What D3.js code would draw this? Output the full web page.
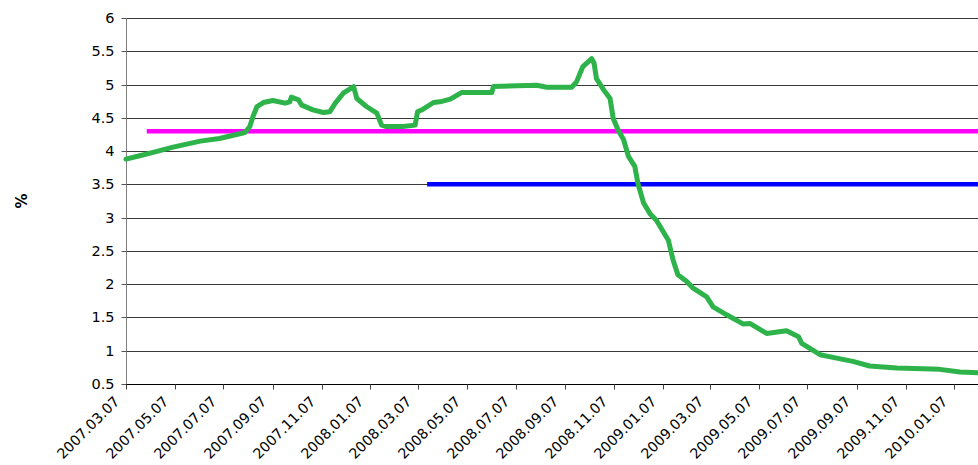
<!DOCTYPE html>
<html>
<head>
<meta charset="utf-8">
<script src="https://cdn.jsdelivr.net/npm/d3@7"></script>
<style>
  html, body { margin: 0; padding: 0; background: #fff; }
  svg { display: block; }
  text { font-family: "DejaVu Sans", Verdana, sans-serif; fill: #000; }
</style>
</head>
<body>
<svg id="chart" width="978" height="465"></svg>
<script>
// Daily rate series (dates and % values)
const rateDates = [
  "2007-03-07","2007-03-24","2007-04-10","2007-05-05","2007-06-08","2007-07-02",
  "2007-08-03","2007-08-09","2007-08-13","2007-08-18","2007-08-26","2007-09-07",
  "2007-09-22","2007-09-28","2007-09-30","2007-10-09","2007-10-13","2007-10-27",
  "2007-11-09","2007-11-17","2007-11-24","2007-12-04","2007-12-17","2007-12-21",
  "2008-01-02","2008-01-15","2008-01-21","2008-01-27","2008-02-17","2008-03-03",
  "2008-03-06","2008-03-13","2008-03-26","2008-04-03","2008-04-16","2008-04-30",
  "2008-06-07","2008-06-09","2008-08-02","2008-08-15","2008-09-15","2008-09-21",
  "2008-09-29","2008-10-10","2008-10-13","2008-10-16","2008-10-25","2008-11-02",
  "2008-11-06","2008-11-12","2008-11-19","2008-11-25","2008-12-03","2008-12-07",
  "2008-12-14","2008-12-22","2008-12-30","2009-01-14","2009-01-20","2009-01-26",
  "2009-02-06","2009-02-14","2009-03-03","2009-03-11","2009-03-28","2009-04-18",
  "2009-04-26","2009-05-17","2009-06-11","2009-06-26","2009-06-30","2009-07-23",
  "2009-08-08","2009-09-02","2009-09-23","2009-10-27","2009-12-20","2010-01-14",
  "2010-02-06"
];
const rateValues = [
  3.88, 3.93, 3.98, 4.06, 4.15, 4.19,
  4.28, 4.37, 4.52, 4.67, 4.73, 4.76,
  4.72, 4.74, 4.81, 4.77, 4.69, 4.62,
  4.58, 4.59, 4.72, 4.87, 4.97, 4.79,
  4.67, 4.57, 4.39, 4.37, 4.37, 4.39,
  4.59, 4.63, 4.73, 4.74, 4.78, 4.88,
  4.88, 4.97, 4.99, 4.96, 4.96, 5.04,
  5.27, 5.39, 5.32, 5.09, 4.92, 4.79,
  4.49, 4.32, 4.17, 3.92, 3.77, 3.51,
  3.22, 3.06, 2.96, 2.66, 2.36, 2.14,
  2.04, 1.94, 1.81, 1.66, 1.54, 1.40,
  1.41, 1.26, 1.30, 1.21, 1.11, 0.94,
  0.90, 0.84, 0.77, 0.74, 0.72, 0.68,
  0.67
];

// Flat reference levels (value and first date)
const levelValues = [4.3, 3.5];
const levelStarts = ["2007-04-02", "2008-03-18"];
const levelEnd = "2010-02-06";

// Axis ticks
const xTickLabels = [
  "2007.03.07","2007.05.07","2007.07.07","2007.09.07","2007.11.07","2008.01.07",
  "2008.03.07","2008.05.07","2008.07.07","2008.09.07","2008.11.07","2009.01.07",
  "2009.03.07","2009.05.07","2009.07.07","2009.09.07","2009.11.07","2010.01.07"
];
const yTicks = [0.5, 1, 1.5, 2, 2.5, 3, 3.5, 4, 4.5, 5, 5.5, 6];

const parseIso = d3.timeParse("%Y-%m-%d");
const parseLabel = d3.timeParse("%Y.%m.%d");

const plotLeft = 126, plotRight = 978, plotTop = 18, plotBottom = 384;

const x = d3.scaleTime()
  .domain([parseLabel("2007.03.07"), parseLabel("2010.01.07")])
  .range([plotLeft, 954.3]);
const y = d3.scaleLinear().domain([0.5, 6]).range([plotBottom, plotTop]);

const svg = d3.select("#chart");

// Horizontal gridlines
svg.append("g")
  .selectAll("line")
  .data(yTicks.slice(1))
  .join("line")
  .attr("x1", plotLeft).attr("x2", plotRight)
  .attr("y1", d => Math.round(y(d)) + 0.5)
  .attr("y2", d => Math.round(y(d)) + 0.5)
  .attr("stroke", "#3a3a3a")
  .attr("stroke-width", 1);

// Y axis
const yAxis = svg.append("g")
  .attr("transform", `translate(${plotLeft + 0.5},0)`)
  .call(d3.axisLeft(y).tickValues(yTicks).tickSize(5).tickPadding(7)
    .tickFormat(d3.format("")));
yAxis.select(".domain").attr("stroke", "#808080").attr("d", `M0,${plotTop}V${plotBottom}`);
yAxis.selectAll(".tick line").attr("stroke", "#555");
yAxis.selectAll(".tick").attr("transform", d => `translate(0,${Math.round(y(d)) + 0.5})`);
yAxis.selectAll("text").attr("font-size", 14.5).attr("font-family", "DejaVu Sans, Verdana, sans-serif").attr("fill", "#000");

// X axis
const xTickDates = xTickLabels.map(parseLabel);
const xAxis = svg.append("g")
  .attr("transform", `translate(0,${plotBottom + 0.5})`)
  .call(d3.axisBottom(x).tickValues(xTickDates).tickSize(5)
    .tickFormat((d, i) => xTickLabels[i]));
xAxis.select(".domain").attr("stroke", "#000").attr("d", `M${plotLeft},0H${plotRight}`);
xAxis.selectAll(".tick line").attr("stroke", "#444");
xAxis.selectAll(".tick").attr("transform", d => `translate(${Math.round(x(d)) + 0.5},0)`);
xAxis.selectAll("text")
  .attr("font-size", 14.2)
  .attr("font-family", "DejaVu Sans, Verdana, sans-serif")
  .attr("fill", "#000")
  .attr("text-anchor", "end")
  .attr("dy", null)
  .attr("y", null)
  .attr("transform", "translate(-9,15) rotate(-45)")
  .attr("dominant-baseline", "middle");

// Reference levels
const levelColors = ["#ff00ff", "#0000ff"];
svg.append("g")
  .selectAll("line")
  .data(levelValues)
  .join("line")
  .attr("x1", (d, i) => x(parseIso(levelStarts[i])))
  .attr("x2", x(parseIso(levelEnd)))
  .attr("y1", d => y(d)).attr("y2", d => y(d))
  .attr("stroke", (d, i) => levelColors[i])
  .attr("stroke-width", 4.5);

// Rate line
const series = rateDates.map((d, i) => ({ date: parseIso(d), value: rateValues[i] }));
svg.append("path")
  .datum(series)
  .attr("fill", "none")
  .attr("stroke", "#2db34a")
  .attr("stroke-width", 5)
  .attr("stroke-linejoin", "round")
  .attr("stroke-linecap", "round")
  .attr("d", d3.line().x(d => x(d.date)).y(d => y(d.value)));

// Y axis title
svg.append("text")
  .attr("transform", "translate(22.5,201) rotate(-90)")
  .attr("text-anchor", "middle")
  .attr("dominant-baseline", "middle")
  .attr("font-size", 15)
  .attr("font-weight", "bold")
  .text("%");
</script>
</body>
</html>
